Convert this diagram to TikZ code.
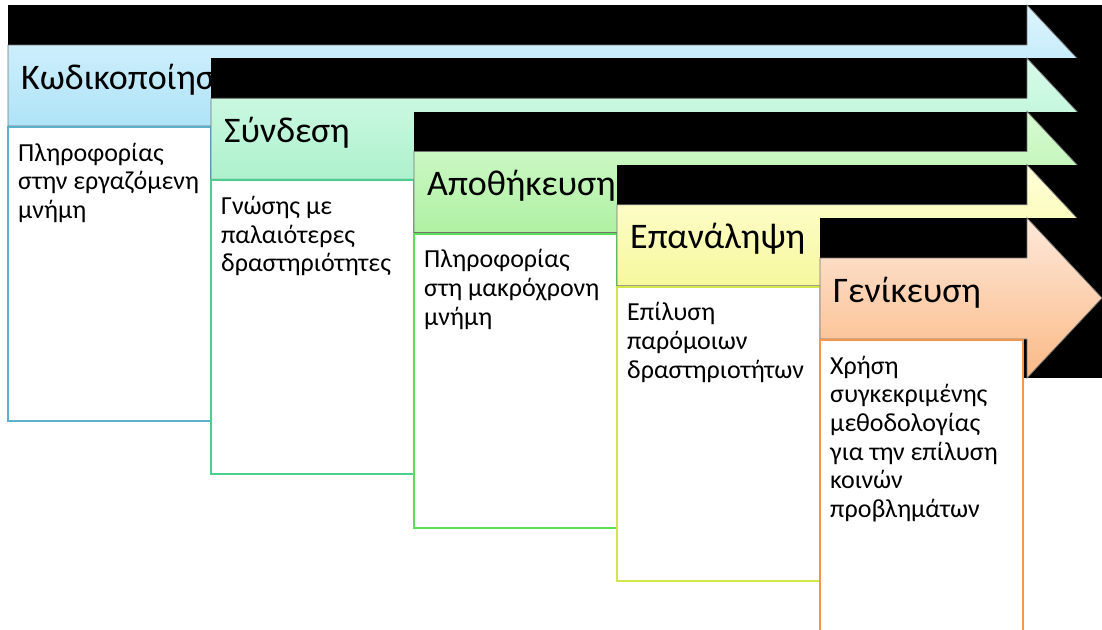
\documentclass[tikz,border=0pt]{standalone}
\usepackage{fontspec}
\setmainfont{Carlito}
\definecolor{cAtop}{HTML}{DCF4FD}\definecolor{cAbot}{HTML}{A0DEF6}\definecolor{cAln}{HTML}{5BB0CB}
\definecolor{cBtop}{HTML}{D8FBEA}\definecolor{cBbot}{HTML}{A0EEC4}\definecolor{cBln}{HTML}{4CCF8E}
\definecolor{cCtop}{HTML}{D8FAD2}\definecolor{cCbot}{HTML}{A2EE94}\definecolor{cCln}{HTML}{5DDF55}
\definecolor{cDtop}{HTML}{FFFFDA}\definecolor{cDbot}{HTML}{F4F68A}\definecolor{cDln}{HTML}{D3E64A}
\definecolor{cEtop}{HTML}{FDE8DA}\definecolor{cEbot}{HTML}{FBBA86}\definecolor{cEln}{HTML}{F5974A}
\tikzset{
  backblk/.style={fill=black},
  arrowshape/.style={draw=black!55, line width=0.8pt},
  textbox/.style={draw, line width=2pt, fill=white, anchor=north west, minimum width=203pt, minimum height=294pt, inner sep=0pt, outer sep=0pt},
  title/.style={anchor=base west, inner sep=0pt, font=\fontsize{36}{43}\selectfont},
  body/.style={anchor=north west, inner sep=0pt, align=left, font=\fontsize{26}{28.7}\selectfont},
}
\newcommand{\stagedraw}[8]{% #1 x, #2 top, #3 top color, #4 bottom color, #5 line color, #6 name, #7 title, #8 body
  \fill[backblk] (#1,#2) rectangle (1102,#2+160);
  \path[arrowshape, top color=#3, bottom color=#4]
    (#1,#2+40) -- (1027,#2+40) -- (1027,#2) -- (1102,#2+80) -- (1027,#2+160)
    -- (1027,#2+121) -- (#1,#2+121) -- cycle;
  \node[title] (t#6) at (#1+13,#2+84) {#7};
  \node[textbox, draw=#5] (b#6) at (#1,#2+122) {};
  \node[body] (x#6) at (#1+10,#2+155.9-20.09) {\strut#8};
}
\begin{document}
\begin{tikzpicture}[x=1pt,y=-1pt]
\useasboundingbox (0,0) rectangle (1102,629);
\clip (0,0) rectangle (1102,629);
\fill[white] (0,0) rectangle (1102,629);
\stagedraw{8}{5}{cAtop}{cAbot}{cAln}{a}{Κωδικοποίηση}{Πληροφορίας\\στην εργαζόμενη\\μνήμη}
\stagedraw{211}{58.25}{cBtop}{cBbot}{cBln}{b}{Σύνδεση}{Γνώσης με\\παλαιότερες\\δραστηριότητες}
\stagedraw{414}{111.5}{cCtop}{cCbot}{cCln}{c}{Αποθήκευση}{Πληροφορίας\\στη μακρόχρονη\\μνήμη}
\stagedraw{617}{164.75}{cDtop}{cDbot}{cDln}{d}{Επανάληψη}{Επίλυση\\παρόμοιων\\δραστηριοτήτων}
\stagedraw{820}{218}{cEtop}{cEbot}{cEln}{e}{Γενίκευση}{Χρήση\\συγκεκριμένης\\μεθοδολογίας\\για την επίλυση\\κοινών\\προβλημάτων}
\end{tikzpicture}
\end{document}
